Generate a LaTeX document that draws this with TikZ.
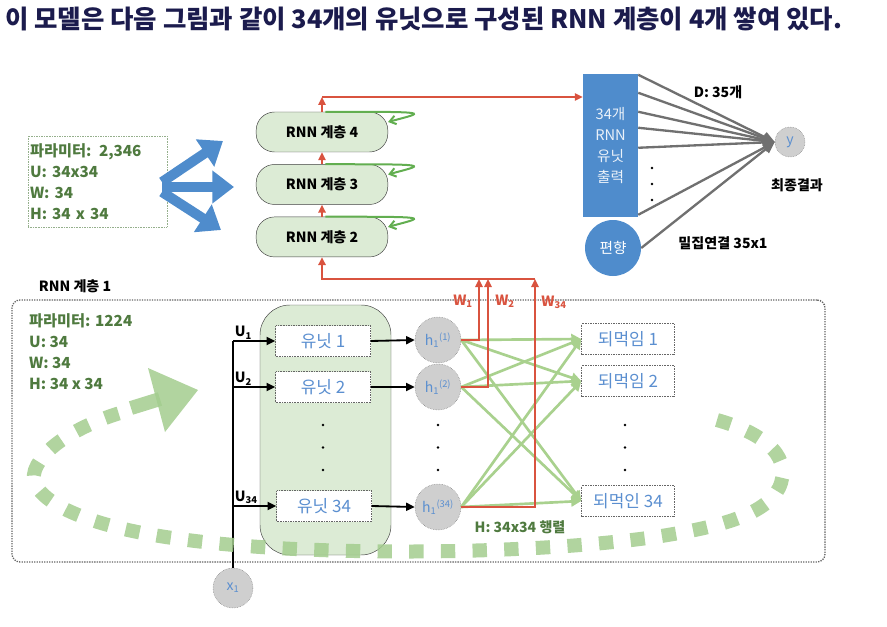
\documentclass[tikz,border=0pt]{standalone}
\usepackage{fontspec}
\setmainfont{Noto Sans CJK KR}
\usetikzlibrary{arrows.meta}
\usetikzlibrary{positioning}
\definecolor{titleInk}{HTML}{1B1B4D}
\definecolor{paramGreen}{HTML}{4F7A3F}
\definecolor{layerFill}{HTML}{DCEBD5}
\definecolor{unitBlue}{HTML}{5B8FD0}
\definecolor{boxBlue}{HTML}{4F8CCC}
\definecolor{wireRed}{HTML}{D9533F}
\definecolor{loopGreen}{HTML}{62AE50}
\definecolor{hiddenGreen}{HTML}{A9D18E}
\definecolor{cycleGreen}{HTML}{A3CD8E}
\definecolor{circleGray}{HTML}{CFCFCF}
\definecolor{denseGray}{HTML}{707070}
\newcommand{\threeDots}[3]{%%
  %% Three small dots going down from (#1,#2), #3 apart.
  \foreach \k in {0,1,2} {
    \fill (#1,#2+\k*#3) circle (1.1pt);
  }
}

\begin{document}
\begin{tikzpicture}[%%
  x=0.3mm,y=-0.3mm,%%
  layerStyle/.style={draw=black!75,fill=layerFill,rounded corners=5.5mm,minimum width=39.5mm,minimum height=12mm,font=\fontsize{12}{14}\selectfont\bfseries},%%
  unitStyle/.style={draw=black!60,densely dotted,fill=white,minimum width=28.5mm,minimum height=9.3mm,text=unitBlue,font=\fontsize{14.5}{16}\selectfont},%%
  hStyle/.style={circle,draw=black!55,densely dotted,fill=circleGray,minimum size=13.8mm,inner sep=0pt,text=unitBlue,font=\fontsize{12}{13}\selectfont},%%
  paramStyle/.style={align=left,text=paramGreen,font=\fontsize{13}{17.9}\selectfont\bfseries},%%
  labelStyle/.style={font=\fontsize{12}{14}\selectfont\bfseries},%%
  cycleStyle/.style={cycleGreen,opacity=0.85,line width=4.2mm},%%
  redArrow/.style={draw=wireRed,line width=0.6mm,-{Triangle[length=2.4mm,width=2.2mm]}},%%
  loopStyle/.style={draw=loopGreen,line width=0.6mm,-{Straight Barb[length=1.8mm,width=2.6mm]}},%%
  inputStyle/.style={draw=black,line width=0.55mm,-{Triangle[length=2.6mm,width=2.4mm]}},%%
  hiddenStyle/.style={draw=hiddenGreen,line width=0.8mm,-{Triangle[length=3mm,width=3mm]}},%%
  denseStyle/.style={draw=denseGray,line width=0.7mm,-{Triangle[length=3.5mm,width=3mm]}},%%
  fanStyle/.style={draw=boxBlue,line width=3mm,-{Triangle[length=6.5mm,width=9.5mm]}}
]
\useasboundingbox (0,0) rectangle (887,626);
%%
%% The caption line on top.
\node[anchor=west,inner sep=0pt,text=titleInk,font=\fontsize{21.7}{26}\selectfont\bfseries] (title) at (5,19)
  {이 모델은 다음 그림과 같이 34개의 유닛으로 구성된 RNN 계층이 4개 쌓여 있다.};
%%
%% Upper layers 2 to 4.
\node[paramStyle,draw=paramGreen!60,densely dotted,text width=40.5mm,minimum height=27.3mm,inner sep=0.6mm] (paramTop) at (97.5,181.5)
  {파라미터: 2,346\\U: 34x34\\W: 34\\H: 34 x 34};
\coordinate (fanRoot) at (162,187);
\coordinate (fanUp) at (223,141);
\coordinate (fanMid) at (234,187);
\coordinate (fanDown) at (221,230);
\draw[fanStyle] ([yshift=1.5mm]fanRoot) -- (fanUp);
\draw[fanStyle] (fanRoot) -- (fanMid);
\draw[fanStyle] ([yshift=-1.5mm]fanRoot) -- (fanDown);
\node[layerStyle] (rnnFour) at (322,132) {RNN 계층 4};
\node[layerStyle,below=3.6mm of rnnFour] (rnnThree) {RNN 계층 3};
\node[layerStyle,below=3.6mm of rnnThree] (rnnTwo) {RNN 계층 2};
\draw[redArrow] (rnnTwo.north) -- (rnnThree.south);
\draw[redArrow] (rnnThree.north) -- (rnnFour.south);
\foreach \layer in {rnnTwo,rnnThree,rnnFour} {
  \draw[loopStyle] ([xshift=1mm]\layer.north) .. controls +(33mm,0) and +(11mm,3mm) .. ([yshift=3mm]\layer.east);
}
%%
%% Output stage.
\node[fill=boxBlue,minimum width=16.5mm,minimum height=42.9mm,align=center,text=white!88!boxBlue,font=\fontsize{12.5}{18}\selectfont] (outBox) at (610.5,145.5)
  {34개\\RNN\\유닛\\출력};
\node[circle,fill=boxBlue,minimum size=16.8mm,inner sep=0pt,text=white,font=\fontsize{12.5}{14}\selectfont] (biasNode) at (613,248) {편향};
\node[hStyle,minimum size=9mm] (yNode) at (790,142) {y};
\coordinate (topTurn) at (322,97);
\draw[redArrow] (rnnFour.north) -- (topTurn);
\draw[redArrow] (topTurn) -- (topTurn -| outBox.west);
\foreach \dy in {1,19,38,54,74,141} {
  \draw[denseStyle] ([yshift=-\dy*0.3mm]outBox.north east) -- (yNode.west);
}
\draw[denseStyle] (biasNode.east) -- (yNode.west);
\threeDots{652}{168}{16}
\node[labelStyle] (dCount) at (718,92) {D: 35개};
\node[labelStyle] (yCaption) at (797,185) {최종결과};
\node[labelStyle] (denseCaption) at (723,243) {밀집연결 35x1};
%%
%% Layer 1 in detail.
\node[labelStyle] (layerOneTitle) at (75,286) {RNN 계층 1};
\node[draw=black!60,densely dotted,line width=0.4mm,rounded corners=2.4mm,minimum width=243.9mm,minimum height=78.6mm] (layerOneFrame) at (418.5,431) {};
\node[paramStyle,anchor=west] (paramOne) at (25,351.5) {파라미터: 1224\\U: 34\\W: 34\\H: 34 x 34};
\node[draw=black!75,fill=layerFill,rounded corners=9mm,minimum width=39.3mm,minimum height=75mm] (unitBlock) at (325.5,430) {};
\node[unitStyle] (unitOne) at (323,341) {유닛 1};
\node[unitStyle] (unitTwo) at (323,387) {유닛 2};
\node[unitStyle] (unitLast) at (324,506) {유닛 34};
\threeDots{323}{425}{22.5}
\node[hStyle,minimum size=12mm] (xNode) at (233,588) {x\textsubscript{1}};
\coordinate (inputTop) at (xNode.north |- unitOne.west);
\draw[line width=0.55mm] (xNode.north) -- (inputTop);
\node[hStyle] (hOne) at (438,340) {h\textsubscript{1}\textsuperscript{(1)}};
\node[hStyle] (hTwo) at (438,387) {h\textsubscript{1}\textsuperscript{(2)}};
\node[hStyle] (hLast) at (438,507) {h\textsubscript{1}\textsuperscript{(34)}};
\threeDots{438}{425}{22.5}
\foreach \u/\h/\lab in {unitOne/hOne/1,unitTwo/hTwo/2,unitLast/hLast/34} {
  \draw[inputStyle] (xNode.north |- \u.west) -- (\u.west);
  \node[labelStyle,anchor=south west,inner sep=0.5mm] (uLabel\lab) at (xNode.north |- \u.west) {U\textsubscript{\lab}};
  \draw[inputStyle] (\u.east) -- (\h.west);
}
\node[unitStyle,minimum width=27.9mm] (fbOne) at (628,339) {되먹임 1};
\node[unitStyle,minimum width=27.9mm] (fbTwo) at (628,381) {되먹임 2};
\node[unitStyle,minimum width=27.9mm] (fbLast) at (628,501) {되먹인 34};
\threeDots{625}{425}{22.5}
\foreach \src in {hOne,hTwo,hLast} {
  \foreach \dst in {fbOne,fbTwo,fbLast} {
    \draw[hiddenStyle] (\src.east) -- (\dst.west);
  }
}
%% Outputs of layer 1 going up to layer 2.
\coordinate (wOneTop) at (479,279);
\coordinate (wTwoTop) at (488,279);
\coordinate (wLastTop) at (535,279);
\draw[redArrow] (hOne.east) -| (wOneTop);
\draw[redArrow] (hTwo.east) -| (wTwoTop);
\draw[redArrow] (hLast.east) -| (wLastTop);
\draw[redArrow] (wLastTop) -| (rnnTwo.south);
\node[labelStyle,text=wireRed] (wOneLabel) at (463,301) {W\textsubscript{1}};
\node[labelStyle,text=wireRed] (wTwoLabel) at (505,301) {W\textsubscript{2}};
\node[labelStyle,text=wireRed] (wLastLabel) at (554,302) {W\textsubscript{34}};
\node[labelStyle,text=paramGreen] (hCaption) at (520,527) {H: 34x34 행렬};
%%
%% The big dashed cycle arrow.
\draw[cycleStyle,dash pattern=on 4.3mm off 5.2mm]
  (717,420) .. controls (770,435) and (792,460) .. (779,488)
  .. controls (765,515) and (720,527) .. (655,537)
  .. controls (520,556) and (300,556) .. (180,539)
  .. controls (80,526) and (25,497) .. (35,470)
  .. controls (45,443) and (90,422) .. (120,413);
\draw[cycleStyle] (131,408) -- (160,399);
\fill[cycleGreen,opacity=0.85] (148,368) -- (198,390) -- (165,432) -- cycle;
\end{tikzpicture}
\end{document}
